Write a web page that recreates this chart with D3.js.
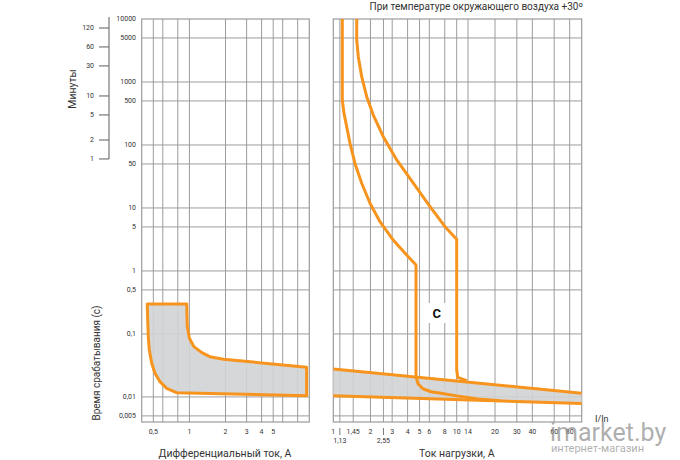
<!DOCTYPE html>
<html><head><meta charset="utf-8">
<script src="https://cdn.jsdelivr.net/npm/d3@7"></script>
<style>body{margin:0;background:#fff}svg{display:block}text{font-family:Roboto,"DejaVu Sans",sans-serif}</style>
</head><body><svg id="c" width="680" height="460"></svg>
<script>
// ---- data ----
const secTicks = [10000,5000,1000,500,100,50,10,5,1,0.5,0.1,0.01,0.005];
const secLabels = ["10000","5000","1000","500","100","50","10","5","1","0,5","0,1","0,01","0,005"];
const minTicks = [120,60,30,10,5,2,1];
const rcdGrid = [0.5,0.6,0.8,1,2,3,4,5,6,8];
const rcdTicks = [0.5,1,2,3,4,5];
const rcdLabels = ["0,5","1","2","3","4","5"];
const mcbGrid = [1.13,1.45,2,2.55,3,4,5,6,8,10,14,20,30,40,60,80];
const mcbTicks = [1,1.45,2,3,4,5,6,8,10,14,20,30,40,60,80];
const mcbLabels = ["1","1,45","2","3","4","5","6","8","10","14","20","30","40","60","80"];
const mcbTicks2 = [1.13,2.55];
const mcbLabels2 = ["1,13","2,55"];
// RCD tripping zone (current A, time s), closed outline
const rcdZone = [[0.445,0.3],[0.95,0.3],[0.96,0.131],[1.0,0.0854],[1.09,0.0629],[1.27,0.0505],[1.48,0.0436],[1.92,0.0397],[9.5,0.0296],[9.5,0.0104],[0.78,0.0117],[0.646,0.0137],[0.568,0.0175],[0.516,0.0238],[0.485,0.0343],[0.463,0.0557],[0.454,0.0906],[0.449,0.167]];
// MCB C curve (I/In, time s)
const mcbLow = [[1.183,10000],[1.183,518],[1.221,318],[1.284,195],[1.366,106],[1.499,51],[1.699,24.7],[1.983,11.9],[2.39,6.06],[3.06,3.10],[3.93,1.79],[4.68,1.245],[4.68,0.021],[4.86,0.0161],[5.33,0.0135],[6.19,0.0121],[7.46,0.0114],[10,0.0104],[16,0.0093],[22,0.0087]];
const mcbHigh = [[1.548,10000],[1.548,4645],[1.594,2523],[1.699,1214],[1.865,584],[2.11,299],[2.54,135.5],[3.265,57.8],[4.45,24.7],[6.08,10.5],[8.04,5.05],[10,3.19],[10,0.0268],[10.3,0.0205],[13.5,0.0181]];
const bandUpper = [[1,0.0278],[100,0.01145]];
const bandLower = [[1,0.0104],[100,0.0079]];
const cLabel = {text:"C", i:6.9, t:0.215};

// ---- scales ----
const svg = d3.select("#c");
const y = d3.scaleLog().domain([0.004,10000]).range([422,19]);
const xL = d3.scaleLog().domain([0.4,10]).range([141.7,309.3]);
const xR = d3.scaleLog().domain([1,10,14,20,100]).range([333.3,456.7,468,495,581.7]);
const ORANGE = "#f7941d", GRID = "#9c9c9c", FILL = "#d2d3d5", TXT = "#333";

function panel(x, grid){
  const g = svg.append("g");
  const [x0,x1] = [x.range()[0], x.range()[x.range().length-1]];
  g.selectAll(".h").data(secTicks.filter(d=>d<10000)).join("line")
    .attr("x1",x0).attr("x2",x1).attr("y1",d=>y(d)).attr("y2",d=>y(d))
    .attr("stroke",GRID).attr("stroke-width",1);
  g.selectAll(".v").data(grid).join("line")
    .attr("x1",d=>x(d)).attr("x2",d=>x(d)).attr("y1",y.range()[1]).attr("y2",y.range()[0])
    .attr("stroke",GRID).attr("stroke-width",1);
  g.append("rect").attr("x",x0).attr("y",y.range()[1]).attr("width",x1-x0).attr("height",y.range()[0]-y.range()[1])
    .attr("fill","none").attr("stroke",GRID).attr("stroke-width",1.2);
  return g;
}
panel(xL, rcdGrid);
panel(xR, mcbGrid);

// left y labels (seconds)
svg.append("g").selectAll("text").data(secTicks).join("text")
  .attr("x",136).attr("y",d=>y(d)).attr("dy","0.35em").attr("text-anchor","end")
  .attr("font-size",7).attr("fill",TXT).text((d,i)=>secLabels[i]);

// minutes axis
const minAx = svg.append("g");
minAx.append("line").attr("x1",109).attr("x2",109).attr("y1",17).attr("y2",y(60))
  .attr("stroke","#777").attr("stroke-width",1.2);
minAx.selectAll(".t").data(minTicks).join("line")
  .attr("x1",99).attr("x2",109).attr("y1",d=>y(d*60)).attr("y2",d=>y(d*60))
  .attr("stroke","#777").attr("stroke-width",1.2);
minAx.selectAll("text").data(minTicks).join("text")
  .attr("x",94).attr("y",d=>y(d*60)).attr("dy","0.35em").attr("text-anchor","end")
  .attr("font-size",7).attr("fill",TXT).text(d=>d);

svg.append("text").attr("transform","translate(76,89) rotate(-90)").attr("text-anchor","middle")
  .attr("font-size",10.5).attr("fill",TXT).text("Минуты");
svg.append("text").attr("transform","translate(100,363) rotate(-90)").attr("text-anchor","middle")
  .attr("font-size",10).attr("fill",TXT).text("Время срабатывания (с)");

// x labels
svg.append("g").selectAll("text").data(rcdTicks).join("text")
  .attr("x",d=>xL(d)).attr("y",434).attr("text-anchor","middle")
  .attr("font-size",7).attr("fill",TXT).text((d,i)=>rcdLabels[i]);
svg.append("g").selectAll("text").data(mcbTicks).join("text")
  .attr("x",d=>xR(d)).attr("y",434).attr("text-anchor","middle")
  .attr("font-size",7).attr("fill",TXT).text((d,i)=>mcbLabels[i]);
svg.append("g").selectAll("line").data(mcbTicks2).join("line")
  .attr("x1",d=>xR(d)).attr("x2",d=>xR(d)).attr("y1",428).attr("y2",435)
  .attr("stroke","#777").attr("stroke-width",1);
svg.append("g").selectAll("text").data(mcbTicks2).join("text")
  .attr("x",d=>xR(d)).attr("y",443).attr("text-anchor","middle")
  .attr("font-size",7).attr("fill",TXT).text((d,i)=>mcbLabels2[i]);

svg.append("text").attr("x",225).attr("y",457).attr("text-anchor","middle")
  .attr("font-size",10.5).attr("fill",TXT).text("Дифференциальный ток, А");
svg.append("text").attr("x",456.7).attr("y",457).attr("text-anchor","middle")
  .attr("font-size",10.5).attr("fill",TXT).text("Ток нагрузки, А");
svg.append("text").attr("x",583).attr("y",10).attr("text-anchor","end")
  .attr("font-size",10).attr("fill",TXT).text("При температуре окружающего воздуха +30º");

// RCD zone
const lineL = d3.line().x(d=>xL(d[0])).y(d=>y(d[1]));
svg.append("path").attr("d",lineL(rcdZone)+"Z").attr("fill",FILL).attr("fill-opacity",0.9)
  .attr("stroke",ORANGE).attr("stroke-width",3).attr("stroke-linejoin","round");

// MCB
const lineR = d3.line().x(d=>xR(d[0])).y(d=>y(d[1]));
svg.append("path").attr("d",lineR(bandUpper.concat(bandLower.slice().reverse()))+"Z")
  .attr("fill",FILL).attr("fill-opacity",0.9);
[bandUpper,bandLower,mcbLow,mcbHigh].forEach(s=>{
  svg.append("path").attr("d",lineR(s)).attr("fill","none")
    .attr("stroke",ORANGE).attr("stroke-width",3).attr("stroke-linejoin","round");
});

// C label
svg.append("rect").attr("x",xR(cLabel.i)-9).attr("y",y(cLabel.t)-10).attr("width",18).attr("height",20).attr("fill","#fff");
svg.append("text").attr("x",xR(cLabel.i)).attr("y",y(cLabel.t)).attr("dy","0.36em").attr("text-anchor","middle")
  .attr("font-size",13).attr("font-weight","bold").attr("fill","#111").text(cLabel.text);

// source watermark
svg.append("text").attr("x",550).attr("y",441).attr("font-size",25).attr("fill","#8c8c8c").attr("fill-opacity",0.7).text("imarket.by");
svg.append("text").attr("x",551).attr("y",452).attr("font-size",11).attr("fill","#8c8c8c").attr("fill-opacity",0.7).text("интернет-магазин");
svg.append("text").attr("x",595).attr("y",422)
  .attr("font-size",9).attr("fill",TXT).text("I/In");
</script></body></html>
